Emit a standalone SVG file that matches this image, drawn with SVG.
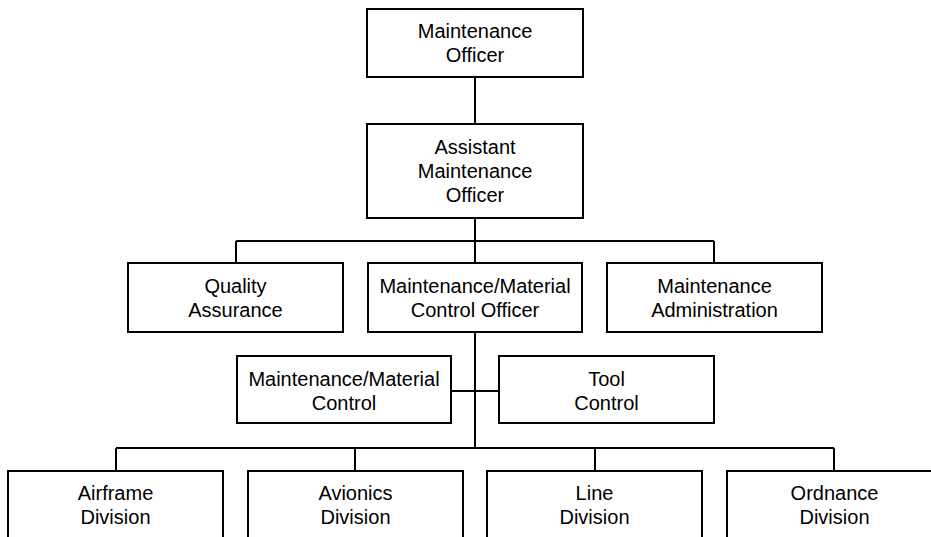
<svg xmlns="http://www.w3.org/2000/svg" width="931" height="537" viewBox="0 0 931 537">
<style>
rect{fill:#fff;stroke:#000;stroke-width:2}
.c{fill:none;stroke:#000;stroke-width:2}
text{font-family:"Liberation Sans",Arial,sans-serif;font-size:20px;fill:#000;text-anchor:middle}
</style>
<rect x="0" y="0" width="931" height="537" style="stroke:none"/>
<g id="connectors" class="c">
<path class="c" d="M475 77V124"/>
<path class="c" d="M475 218V263M236 241H714M236 241V263M714 241V263"/>
<path class="c" d="M475 332V448M451 391H499"/>
<path class="c" d="M116 448H834M116 448V471M355 448V471M595 448V471M834 448V471"/>
</g>
<g id="maintenance-officer"><rect x="367" y="9" width="216" height="68"/><text x="475" y="38">Maintenance</text><text x="475" y="62">Officer</text></g>
<g id="assistant-maintenance-officer"><rect x="367" y="124" width="216" height="94"/><text x="475" y="154">Assistant</text><text x="475" y="178">Maintenance</text><text x="475" y="202">Officer</text></g>
<g id="quality-assurance"><rect x="128" y="263" width="215" height="69"/><text x="235.5" y="293">Quality</text><text x="235.5" y="317">Assurance</text></g>
<g id="mmc-officer"><rect x="368" y="263" width="214" height="69"/><text x="475" y="293">Maintenance/Material</text><text x="475" y="317">Control Officer</text></g>
<g id="maintenance-administration"><rect x="607" y="263" width="215" height="69"/><text x="714.5" y="293">Maintenance</text><text x="714.5" y="317">Administration</text></g>
<g id="mmc"><rect x="237" y="356" width="214" height="67"/><text x="344" y="386">Maintenance/Material</text><text x="344" y="410">Control</text></g>
<g id="tool-control"><rect x="499" y="356" width="215" height="67"/><text x="606.5" y="386">Tool</text><text x="606.5" y="410">Control</text></g>
<g id="airframe-division"><rect x="8" y="471" width="215" height="90"/><text x="115.5" y="500">Airframe</text><text x="115.5" y="524">Division</text></g>
<g id="avionics-division"><rect x="248" y="471" width="215" height="90"/><text x="355.5" y="500">Avionics</text><text x="355.5" y="524">Division</text></g>
<g id="line-division"><rect x="487" y="471" width="215" height="90"/><text x="594.5" y="500">Line</text><text x="594.5" y="524">Division</text></g>
<g id="ordnance-division"><rect x="727" y="471" width="215" height="90"/><text x="834.5" y="500">Ordnance</text><text x="834.5" y="524">Division</text></g>
</svg>
